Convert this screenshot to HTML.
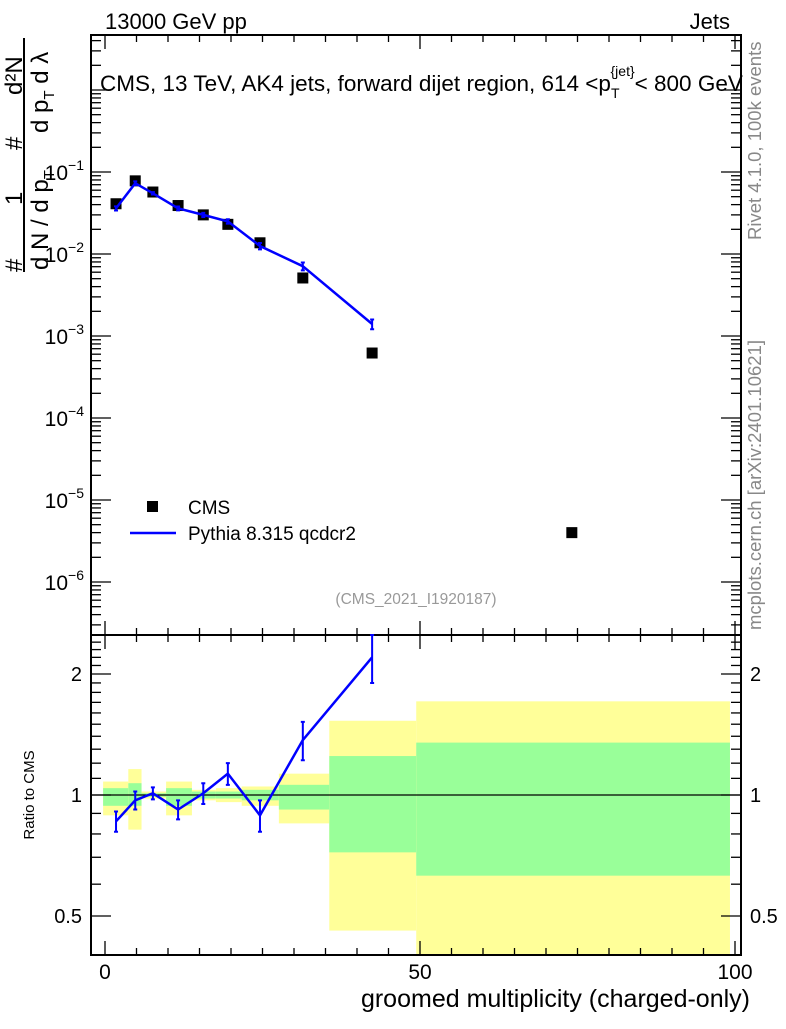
<!DOCTYPE html>
<html><head><meta charset="utf-8"><style>
body{margin:0;background:#fff;}
svg text{font-family:"Liberation Sans",sans-serif;}
</style></head><body>
<svg id="chart" width="786" height="1024" xmlns="http://www.w3.org/2000/svg">
<g id="bands"></g>
<g id="axes"></g>
<g id="marks"></g>
<text x="105" y="29" font-size="22">13000 GeV pp</text>
<text x="730" y="29" font-size="22" text-anchor="end">Jets</text>
<text x="100" y="91" font-size="22.5">CMS, 13 TeV, AK4 jets, forward dijet region, 614 &lt;p<tspan font-size="14" dy="7">T</tspan><tspan font-size="14" dy="-22" dx="-9">{jet}</tspan><tspan dy="15">&lt; 800 GeV</tspan></text>
<g font-size="24">
<line x1="24" y1="38" x2="24" y2="272" stroke="#000" stroke-width="2"/>
<text transform="translate(22,272) rotate(-90)" x="0" y="0">#</text>
<text transform="translate(22,205) rotate(-90)" x="0" y="0">1</text>
<text transform="translate(22,150) rotate(-90)" x="0" y="0">#</text>
<text transform="translate(22,95) rotate(-90)" x="0" y="0">d²N</text>
<text transform="translate(48,270) rotate(-90)" x="0" y="0">d N / d p<tspan font-size="15" dy="6">T</tspan></text>
<text transform="translate(48,133) rotate(-90)" x="0" y="0">d p<tspan font-size="15" dy="6">T</tspan><tspan dy="-6"> d λ</tspan></text>
</g>
<text transform="translate(34,795) rotate(-90)" font-size="15" text-anchor="middle">Ratio to CMS</text>
<text transform="translate(761,240) rotate(-90)" font-size="18.5" fill="#888">Rivet 4.1.0,  100k events</text>
<text transform="translate(761,630) rotate(-90)" font-size="18.5" fill="#888">mcplots.cern.ch [arXiv:2401.10621]</text>
<text x="416" y="604" font-size="15.5" fill="#999" text-anchor="middle">(CMS_2021_I1920187)</text>
<text x="750" y="1007" font-size="25" text-anchor="end">groomed multiplicity (charged-only)</text>
<g>
<rect x="147" y="501" width="11" height="11" fill="#000"/>
<text x="188" y="514" font-size="19">CMS</text>
<line x1="130" y1="533" x2="176" y2="533" stroke="#0000ff" stroke-width="2.5"/>
<text x="188" y="540" font-size="19">Pythia 8.315 qcdcr2</text>
</g>
</svg>
<script>
const xCenters=[1.75,4.8,7.6,11.6,15.6,19.5,24.6,31.4,42.4,74.1];
const cmsValues=[0.041,0.078,0.057,0.039,0.030,0.023,0.0137,0.0051,0.00062,0.000004];
const pythiaValues=[0.036,0.073,0.055,0.036,0.030,0.025,0.0125,0.0071,0.0014];
const ratioValues=[0.86,0.97,1.01,0.92,1.01,1.13,0.89,1.37,2.2];
const ratioErr=[0.05,0.05,0.035,0.05,0.06,0.07,0.08,0.15,0.3];
const binEdges=[-0.3,3.7,5.8,9.7,13.8,17.6,21.7,27.6,35.6,49.4,99.2];
const yellowHi=[1.08,1.16,1.02,1.08,1.03,1.04,1.05,1.13,1.53,1.71];
const yellowLo=[0.89,0.82,0.98,0.89,0.97,0.96,0.94,0.85,0.46,0.30];
const greenHi=[1.04,1.07,1.01,1.04,1.02,1.02,1.03,1.06,1.25,1.35];
const greenLo=[0.94,0.94,0.99,0.94,0.98,0.98,0.97,0.92,0.72,0.63];
const yDecadeLabels=["-6","-5","-4","-3","-2","-1"];
const ratioTickLabels=["0.5","1","2"];
const xTickLabels=["0","50","100"];

const L=91,R=741,T=35,M=635,B=955;
const xs=v=>105+v*6.3;
const ys=v=>90-Math.log10(v)*82;
const yr=v=>795-Math.log10(v)*402;
const NS="http://www.w3.org/2000/svg";
function mk(tag,attrs,parent){const e=document.createElementNS(NS,tag);for(const k in attrs)e.setAttribute(k,attrs[k]);document.getElementById(parent).appendChild(e);return e;}
for(let i=0;i<binEdges.length-1;i++){
 const x0=xs(binEdges[i]),x1=Math.min(xs(binEdges[i+1]),R-11);
 const y0=Math.max(yr(yellowHi[i]),M),y1=Math.min(yr(yellowLo[i]),B);
 const r1=mk('rect',{x:x0,y:y0,width:x1-x0,height:y1-y0,fill:'#ffff99'},'bands');
 
 
 const r2=mk('rect',{x:x0,y:yr(greenHi[i]),width:x1-x0,height:yr(greenLo[i])-yr(greenHi[i]),fill:'#99ff99'},'bands');
 
 
}
const f1=mk('rect',{x:L,y:T,width:R-L,height:M-T,fill:'none',stroke:'#000','stroke-width':2},'axes');


const f2=mk('rect',{x:L,y:M,width:R-L,height:B-M,fill:'none',stroke:'#000','stroke-width':2},'axes');


const ref=mk('line',{x1:L,x2:R,y1:yr(1),y2:yr(1),stroke:'#000','stroke-width':1.3},'axes');


for(let v=0;v<=100;v+=5){
 const big=v%50===0,len=big?14:7,x=xs(v);
 for(const [y,d] of [[T,1],[M,-1],[M,1],[B,-1]]){
  mk('line',{x1:x,x2:x,y1:y,y2:y+d*len,stroke:'#000','stroke-width':1.3},'axes');
 }
}
xTickLabels.forEach((s,i)=>{
 const t=mk('text',{x:xs(i*50),y:979,'font-size':21,'text-anchor':'middle'},'axes');t.textContent=s;
 
 
});
for(let d=-7;d<=0;d++){
 for(let m=1;m<10;m++){
  const v=m*Math.pow(10,d),y=ys(v);if(y<T||y>M)continue;
  const len=m===1?20:10;
  mk('line',{x1:L,x2:L+len,y1:y,y2:y,stroke:'#000','stroke-width':1.3},'axes');
  mk('line',{x1:R,x2:R-len,y1:y,y2:y,stroke:'#000','stroke-width':1.3},'axes');
 }
}
yDecadeLabels.forEach(s=>{
 const y=ys(Math.pow(10,+s));
 const t=mk('text',{x:84,y:y+8,'font-size':21,'text-anchor':'end'},'axes');
 t.innerHTML='10<tspan font-size="14" dy="-10">−'+s.slice(1)+'</tspan>';
 
 
});
for(let v=0.4;v<=2.51;v+=0.1){
 const y=yr(v);if(y<M||y>B)continue;
 const big=[0.5,1,2].some(a=>Math.abs(a-v)<1e-6),len=big?20:10;
 mk('line',{x1:L,x2:L+len,y1:y,y2:y,stroke:'#000','stroke-width':1.3},'axes');
 mk('line',{x1:R,x2:R-len,y1:y,y2:y,stroke:'#000','stroke-width':1.3},'axes');
}
ratioTickLabels.forEach(s=>{
 const y=yr(+s);
 const a=mk('text',{x:82,y:y+7,'font-size':20,'text-anchor':'end'},'axes');a.textContent=s;
 
 
 const b=mk('text',{x:750,y:y+7,'font-size':20},'axes');b.textContent=s;
 
 
});
cmsValues.forEach((v,i)=>{
 const r=mk('rect',{x:xs(xCenters[i])-5.5,y:ys(v)-5.5,width:11,height:11,fill:'#000'},'marks');
 
 
});
const pl=mk('polyline',{points:pythiaValues.map((v,i)=>xs(xCenters[i])+','+ys(v)).join(' '),fill:'none',stroke:'#0000ff','stroke-width':2.5},'marks');


pythiaValues.forEach((v,i)=>{
 const x=xs(xCenters[i]),lo=ys(v*(1-ratioErr[i]/ratioValues[i])),hi=ys(v*(1+ratioErr[i]/ratioValues[i]));
 const e=mk('path',{d:`M${x},${hi}V${lo}M${x-2},${hi}h4M${x-2},${lo}h4`,stroke:'#0000ff','stroke-width':2,fill:'none'},'marks');
 
 
});
const rl=mk('polyline',{points:ratioValues.map((v,i)=>xs(xCenters[i])+','+yr(v)).join(' '),fill:'none',stroke:'#0000ff','stroke-width':2.5},'marks');


ratioValues.forEach((v,i)=>{
 const x=xs(xCenters[i]),hi=Math.max(yr(v+ratioErr[i]),M),lo=yr(v-ratioErr[i]);
 const e=mk('path',{d:`M${x},${hi}V${lo}M${x-2},${hi}h4M${x-2},${lo}h4`,stroke:'#0000ff','stroke-width':2,fill:'none'},'marks');
 
 
});
</script>
</body></html>
